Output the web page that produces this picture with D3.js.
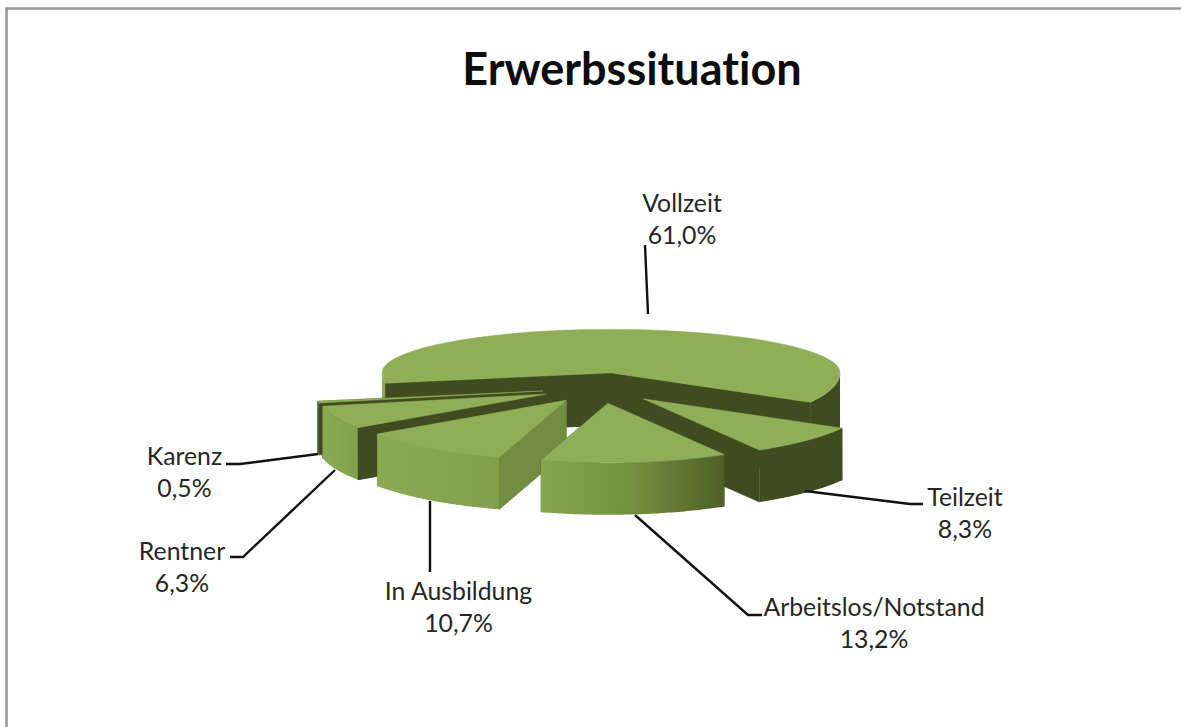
<!DOCTYPE html>
<html><head><meta charset="utf-8">
<script src="https://cdn.jsdelivr.net/npm/d3@7"></script>
<style>html,body{margin:0;padding:0;background:#fff}svg{display:block}</style>
</head><body><svg id="c" width="1181" height="727"></svg>
<script>
const categories = ["Vollzeit","Teilzeit","Arbeitslos/Notstand","In Ausbildung","Rentner","Karenz"];
const values = [61.0,8.3,13.2,10.7,6.3,0.5];
const labels = ["61,0%","8,3%","13,2%","10,7%","6,3%","0,5%"];
const title = "Erwerbssituation";

const W=1181,H=727;
const svg=d3.select("#c");
const deg=Math.PI/180;
const R=229,cx=601,cy=388,explode=59,depth=52,kFront=0.26,kBack=0.19;
const dark="#404c20",top_="#8fae57",outerLit="#89a851",cut="#728c42";

svg.append("rect").attr("width",W).attr("height",H).attr("fill","#fff");
const frame=d3.line();
svg.append("path").attr("d",frame([[6.5,H],[6.5,8.5],[W,8.5]]))
  .attr("fill","none").attr("stroke","#9a9a9a").attr("stroke-width",2.6);

const defs=svg.append("defs");
const gradients=[["gArb",[[0,"#86a54f"],[0.5,"#73903f"],[1,"#4f6027"]]],
                 ["gAus",[[0,"#8aaa52"],[1,"#80a04c"]]],
                 ["gRen",[[0,"#8aaa52"],[1,"#82a04c"]]]];
gradients.forEach(([id,st])=>{
  const g=defs.append("linearGradient").attr("id",id);
  st.forEach(([o,c])=>g.append("stop").attr("offset",o).attr("stop-color",c));
});

const pie=d3.pie().sort(null).value(d=>d).startAngle(-100*deg).endAngle(260*deg);
const arcs=pie(values);

const wallStyle=[
 {a:dark,b:dark,o:dark,o2:outerLit},
 {a:dark,b:dark,o:dark},
 {a:dark,b:dark,o:"url(#gArb)"},
 {a:cut,b:cut,o:"url(#gAus)"},
 {a:dark,b:dark,o:"url(#gRen)"},
 {a:dark,b:dark,o:"#5a7030"}
];
const line=d3.line();
function P(d,ang,r){
  const mid=(d.startAngle+d.endAngle)/2;
  const ax=cx+explode*Math.sin(mid), ay=cy-explode*Math.cos(mid)*kFront;
  const c=Math.cos(ang);
  return [ax+r*Math.sin(ang), ay-r*c*(c>0?kBack:kFront)];
}
const sweep=(d,a0,a1,n=60)=>d3.range(0,n+1).map(i=>P(d,a0+(a1-a0)*i/n,R));
const down=p=>[p[0],p[1]+depth];
function drawSlice(d,i){
  const g=svg.append("g").attr("class","slice");
  const s=wallStyle[i];
  const apex=P(d,0,0), rim=sweep(d,d.startAngle,d.endAngle);
  const a0=rim[0], a1=rim[rim.length-1];
  const wall=(p,q,fill)=>g.append("path").attr("d",line([p,q,down(q),down(p)])+"Z").attr("fill",fill).attr("stroke",fill).attr("stroke-width",.5);
  const band=(b0,b1,fill)=>{
    if(b1<=b0) return;
    const pts=sweep(d,b0,b1);
    g.append("path").attr("d",line(pts.concat(pts.slice().reverse().map(down)))+"Z").attr("fill",fill);
  };
  const cuts=[[a0,s.a],[a1,s.b]].sort((m,n)=>m[0][1]-n[0][1]);
  cuts.forEach(([pt,col])=>wall(apex,pt,col));
  band(Math.max(d.startAngle,90*deg),Math.min(d.endAngle,270*deg),s.o);
  band(Math.max(d.startAngle,-270*deg),Math.min(d.endAngle,-90*deg),s.o2||s.o);
  if(i===0){ wall(apex,a0,dark); wall(apex,a1,dark);}
  if(i===3){ wall(apex,a0,cut);}
  if(i===4){ wall(apex,a0,dark);}
  g.append("path").attr("d",line([apex].concat(rim))+"Z").attr("fill",top_).attr("stroke",top_).attr("stroke-width",.5);
}
[0,5,4,3,1,2].forEach(i=>drawSlice(arcs[i],i));

const leaders=[
 [[648,314],[645,245]],
 [[805,491],[910,504],[923,504]],
 [[635,515],[748,615],[762,615]],
 [[430,501],[430,572]],
 [[335,470],[243,557],[230,557]],
 [[318,454],[240,464],[226,464]]
];
leaders.forEach(l=>svg.append("path").attr("d",line(l)).attr("fill","none").attr("stroke","#111").attr("stroke-width",2.4));

const font="Lato, Carlito, sans-serif";
svg.append("text").text(title).attr("x",632).attr("y",85).attr("text-anchor","middle")
  .style("font-variant-ligatures","none")
  .attr("font-family",font).attr("font-weight",700).attr("font-size",45).attr("fill","#0d0d0d");
const labelPos=[[682,212],[965,506],[874,616],[458.5,600],[182,560],[184.5,465]];
categories.forEach((c,i)=>{
  const [x,y]=labelPos[i];
  const t=svg.append("text").attr("text-anchor","middle").attr("font-family",font)
    .style("font-variant-ligatures","none")
    .attr("font-size",24.8).attr("fill","#262626");
  t.append("tspan").attr("x",x).attr("y",y).text(c);
  t.append("tspan").attr("x",x).attr("y",y+32).text(labels[i]);
});
</script></body></html>
